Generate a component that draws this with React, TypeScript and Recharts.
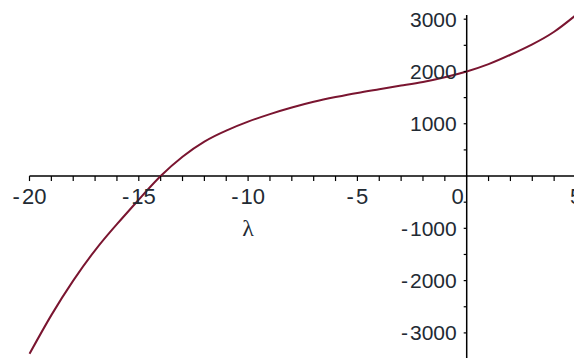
import { LineChart, Line, XAxis, YAxis, ReferenceLine, ReferenceDot } from "recharts";

// values, one per unit of lambda
const lambdaValues = [
  -20, -19, -18, -17, -16, -15, -14, -13, -12, -11, -10, -9, -8, -7, -6, -5, -4, -3, -2, -1, 0, 1, 2,
  3, 4, 5,
];
const curveValues = [
  -3400, -2660, -2000, -1420, -920, -450, 0, 370, 660, 870, 1040, 1185, 1310, 1420, 1510, 1590, 1660,
  1730, 1800, 1890, 2000, 2140, 2320, 2520, 2760, 3080,
];

const xTickValues = [
  -20, -19, -18, -17, -16, -15, -14, -13, -12, -11, -10, -9, -8, -7, -6, -5, -4, -3, -2, -1, 1, 2, 3,
  4, 5,
];
const xLabelValues = [-20, -15, -10, -5, 0, 5];
const yTickValues = [-3000, -2500, -2000, -1500, -1000, -500, 500, 1000, 1500, 2000, 2500, 3000];
const yLabelValues = [-3000, -2000, -1000, 1000, 2000, 3000];

const data = lambdaValues.map((x, i) => ({ x, y: curveValues[i] }));

const numFont = "'Liberation Sans', Arial, sans-serif";
const labelColor = "#222a33";

const numText = (v: number) => {
  const s = String(v);
  if (s.startsWith("-")) {
    return (
      <>
        <tspan>-</tspan>
        <tspan dx={2}>{s.slice(1)}</tspan>
      </>
    );
  }
  return s;
};

const XTickMark = (p: any) => (
  <line x1={p.cx} y1={p.cy} x2={p.cx} y2={p.cy + 5} stroke="#000" strokeWidth={1.2} />
);

const YTickMark = (p: any) => (
  <line x1={p.cx} y1={p.cy} x2={p.cx - 3} y2={p.cy} stroke="#000" strokeWidth={1.2} />
);

const makeXLabel = (v: number) => (p: any) =>
  v === 0 ? (
    <text x={p.cx - 3} y={p.cy + 28} textAnchor="end" fontFamily={numFont} fontSize={22} fill={labelColor}>
      0
    </text>
  ) : (
    <text x={p.cx} y={p.cy + 28} textAnchor="middle" fontFamily={numFont} fontSize={22} fill={labelColor}>
      {numText(v)}
    </text>
  );

const makeYLabel = (v: number) => (p: any) =>
  (
    <text
      x={p.cx - 10}
      y={p.cy}
      dy="0.36em"
      textAnchor="end"
      fontFamily={numFont}
      fontSize={21}
      fill={labelColor}
    >
      {numText(v)}
    </text>
  );

const AxisTitle = (p: any) => (
  <text
    x={p.cx}
    y={p.cy + 60}
    textAnchor="middle"
    fontFamily="'Liberation Serif', 'Times New Roman', serif"
    fontSize={24}
    fill={labelColor}
  >
    λ
  </text>
);

export default function App() {
  return (
    <div
      style={{
        position: "absolute",
        left: 0,
        top: 0,
        width: 574,
        height: 359,
        overflow: "hidden",
        background: "#fff",
      }}
    >
      <LineChart width={580} height={359} data={data} margin={{ top: 15, right: 4, bottom: 1, left: 29.5 }}>
        <XAxis type="number" dataKey="x" domain={[-20, 5]} hide />
        <YAxis type="number" domain={[-3480, 3030]} hide />
        <ReferenceLine y={0} stroke="#000" strokeWidth={1.5} />
        <ReferenceLine x={0} stroke="#000" strokeWidth={1.5} />
        {xTickValues.map((v) => (
          <ReferenceDot key={"xt" + v} x={v} y={0} r={0} shape={XTickMark} />
        ))}
        {yTickValues.map((v) => (
          <ReferenceDot key={"yt" + v} x={0} y={v} r={0} shape={YTickMark} />
        ))}
        {xLabelValues.map((v) => (
          <ReferenceDot key={"xl" + v} x={v} y={0} r={0} shape={makeXLabel(v)} />
        ))}
        {yLabelValues.map((v) => (
          <ReferenceDot key={"yl" + v} x={0} y={v} r={0} shape={makeYLabel(v)} />
        ))}
        <ReferenceDot x={-10} y={0} r={0} shape={AxisTitle} />
        <Line
          type="natural"
          dataKey="y"
          stroke="#7a1530"
          strokeWidth={2}
          dot={false}
          isAnimationActive={false}
        />
      </LineChart>
    </div>
  );
}
